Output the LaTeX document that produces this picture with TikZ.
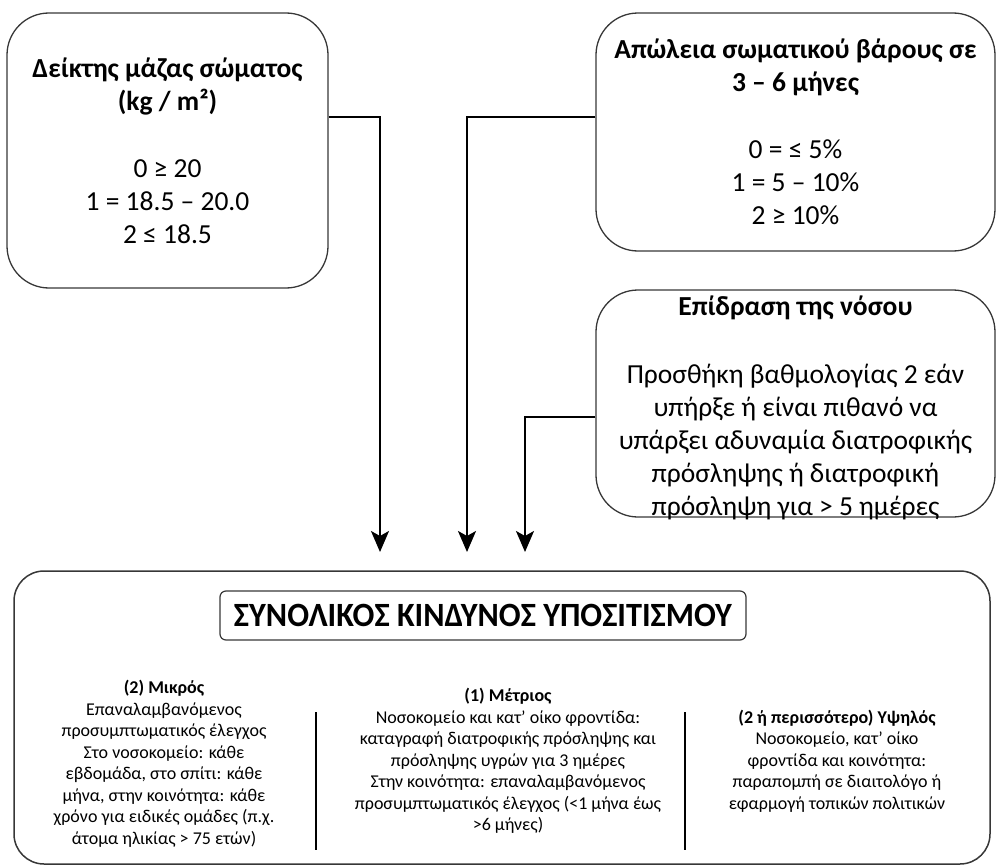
\documentclass[tikz,border=0pt]{standalone}
\usepackage{fontspec}
\usepackage{graphicx}
\setmainfont{Carlito}
\usetikzlibrary{arrows.meta}
\definecolor{bordergray}{RGB}{55,55,55}
\tikzset{
  box/.style={draw=bordergray, line width=1.3pt, rounded corners=42pt, align=center, inner sep=0pt, text=black},
  bigbox/.style={draw=bordergray, line width=1.5pt, rounded corners=30pt, inner sep=0pt},
  titlebox/.style={draw=bordergray, line width=1.2pt, rounded corners=6pt, inner sep=0pt, align=center},
  conn/.style={draw=black, line width=2pt, -{Stealth[length=21pt,width=18pt,inset=5pt]}},
  divider/.style={draw=black, line width=1.5pt},
  coltext/.style={align=center, font=\fontsize{18}{21.5}\selectfont, inner sep=0pt},
  boxfont/.style={font=\fontsize{27.5}{33}\selectfont},
  plaintext/.style={align=center, inner sep=0pt}
}
\begin{document}
\begin{tikzpicture}[x=1pt,y=-1pt]
\useasboundingbox (0,0) rectangle (997,867);
% top-left box
\node[box, boxfont, minimum width=321pt, minimum height=275pt] (bmi) at (167.5,150.5)
 {\textbf{Δείκτης μάζας σώματος}\\ \textbf{(kg / m²)}\\[34pt] 0 ≥ 20\\ 1 = 18.5 – 20.0\\ 2 ≤ 18.5};
% top-right box
\node[box, boxfont, minimum width=399pt, minimum height=238pt] (loss) at (795.5,132)
 {\textbf{Απώλεια σωματικού βάρους σε}\\ \textbf{3 – 6 μήνες}\\[34pt] 0 = ≤ 5\%\\ 1 = 5 – 10\%\\ 2 ≥ 10\%};
% disease box
\node[box, minimum width=399pt, minimum height=227pt] (disease) at (795.5,403.5) {};
\node[plaintext, boxfont] (diseasetext) at (795.5,407.5)
 {\textbf{Επίδραση της νόσου}\\[35pt] Προσθήκη βαθμολογίας 2 εάν\\ υπήρξε ή είναι πιθανό να\\ υπάρξει αδυναμία διατροφικής\\ πρόσληψης ή διατροφική\\ πρόσληψη για > 5 ημέρες};
% total box
\node[bigbox, minimum width=976pt, minimum height=293pt] (total) at (502,717.5) {};
\node[titlebox, minimum width=526pt, minimum height=49pt, font=\fontsize{34}{36}\selectfont] (title) at (483,615.5)
 {\resizebox{498pt}{\height}{\textbf{ΣΥΝΟΛΙΚΟΣ ΚΙΝΔΥΝΟΣ ΥΠΟΣΙΤΙΣΜΟΥ}}};
% columns
\node[coltext] (low) at (164,764)
 {\textbf{(2) Μικρός}\\ Επαναλαμβανόμενος\\ προσυμπτωματικός έλεγχος\\ Στο νοσοκομείο: κάθε\\ εβδομάδα, στο σπίτι: κάθε\\ μήνα, στην κοινότητα: κάθε\\ χρόνο για ειδικές ομάδες (π.χ.\\ άτομα ηλικίας > 75 ετών)};
\node[coltext] (mid) at (508,761)
 {\textbf{(1) Μέτριος}\\ Νοσοκομείο και κατ’ οίκο φροντίδα:\\ καταγραφή διατροφικής πρόσληψης και\\ πρόσληψης υγρών για 3 ημέρες\\ Στην κοινότητα: επαναλαμβανόμενος\\ προσυμπτωματικός έλεγχος (<1 μήνα έως\\ >6 μήνες)};
\node[coltext] (high) at (837,761)
 {\textbf{(2 ή περισσότερο) Υψηλός}\\ Νοσοκομείο, κατ’ οίκο\\ φροντίδα και κοινότητα:\\ παραπομπή σε διαιτολόγο ή\\ εφαρμογή τοπικών πολιτικών};
\draw[divider] (316,712) -- (316,850);
\draw[divider] (685,712) -- (685,850);
% arrow end points
\coordinate (t1) at (380,552);
\coordinate (t2) at (467,552);
\coordinate (t3) at (525,552);
\draw[conn] ([yshift=33.5pt]bmi.east) -| (t1);
\draw[conn] ([yshift=15pt]loss.west) -| (t2);
\draw[conn] ([yshift=-13.5pt]disease.west) -| (t3);
\end{tikzpicture}
\end{document}
